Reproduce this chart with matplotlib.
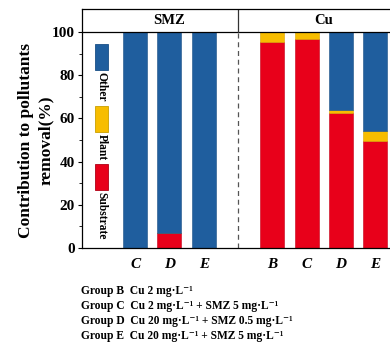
import matplotlib
matplotlib.use("Agg")
import matplotlib.pyplot as plt
from matplotlib.patches import Rectangle

plt.rcParams['font.family'] = ['Liberation Serif', 'DejaVu Serif']
plt.rcParams['font.weight'] = 'bold'

# Data
smz_groups = ['C', 'D', 'E']
smz_substrate = [0, 7, 0]
smz_plant = [0, 0, 0]
smz_other = [100, 93, 100]

cu_groups = ['B', 'C', 'D', 'E']
cu_substrate = [95.5, 96.8, 62.3, 49.5]
cu_plant = [4.5, 3.2, 1.6, 4.7]
cu_other = [0, 0, 36.1, 45.8]

legend_labels = ['Other', 'Plant', 'Substrate']
notes = [
    "Group B  Cu 2 mg·L⁻¹",
    "Group C  Cu 2 mg·L⁻¹ + SMZ 5 mg·L⁻¹",
    "Group D  Cu 20 mg·L⁻¹ + SMZ 0.5 mg·L⁻¹",
    "Group E  Cu 20 mg·L⁻¹ + SMZ 5 mg·L⁻¹",
]

c_other = '#1f5e9e'
c_plant = '#f7bd00'
c_sub = '#e8001a'

fig = plt.figure(figsize=(3.9, 3.51), dpi=100)
ax = fig.add_axes([82/390, (351-248)/351, (394-82)/390, (248-9)/351])

smz_x = [2, 3, 4]
cu_x = [6, 7, 8, 9]
w = 0.7

def stack(xs, sub, pl, ot):
    ax.bar(xs, sub, w, color=c_sub, edgecolor='#c40018', linewidth=0.4)
    ax.bar(xs, pl, w, bottom=sub, color=c_plant, edgecolor='#d9a400', linewidth=0.4)
    bottoms = [s + p for s, p in zip(sub, pl)]
    ax.bar(xs, ot, w, bottom=bottoms, color=c_other, edgecolor='#1a4f86', linewidth=0.4)

stack(smz_x, smz_substrate, smz_plant, smz_other)
stack(cu_x, cu_substrate, cu_plant, cu_other)

ax.set_xlim(0.45, 9.55)
ax.set_ylim(0, 110.6)
ax.set_yticks([0, 20, 40, 60, 80, 100])
ax.set_yticks(range(10, 100, 20), minor=True)
ax.tick_params(axis='y', which='major', length=3, width=0.8, direction='out', labelsize=11, pad=2)
ax.tick_params(axis='y', which='minor', length=2, width=0.6, direction='out')
ax.set_xticks(smz_x + cu_x)
ax.set_xticklabels(smz_groups + cu_groups, fontstyle='italic', fontweight='bold', fontsize=11)
ax.tick_params(axis='x', length=0, pad=7)
for lab in ax.get_yticklabels():
    lab.set_fontweight('bold')

ax.axhline(100, color='black', lw=0.9)
ax.plot([5, 5], [100, 110.6], color='#333333', lw=0.9)
ax.plot([5, 5], [0, 100], color='#555555', lw=0.9, ls=(0, (4, 3)))
ax.text(3.0, 105.3, 'SMZ', ha='center', va='center', fontsize=10.5, fontweight='bold')
ax.text(7.5, 105.3, 'Cu', ha='center', va='center', fontsize=10.5, fontweight='bold')

for s in ['left', 'bottom', 'top']:
    ax.spines[s].set_linewidth(0.9)
ax.spines['right'].set_visible(False)

ax.set_ylabel('Contribution to pollutants\nremoval(%)', fontsize=12.5, fontweight='bold',
              linespacing=1.35)
ax.yaxis.set_label_coords(-28/312, (248-140)/239)

# manual vertical legend
cols = [c_other, c_plant, c_sub]
edges = ['#1a4f86', '#c9a000', '#b00015']
tops = [44, 106, 164]
for lab, col, ec, t in zip(legend_labels, cols, edges, tops):
    x0 = 95
    fx, fy = x0/390, (351 - (t + 26))/351
    fig.patches.append(Rectangle((fx, fy), 13/390, 26/351, transform=fig.transFigure,
                                 facecolor=col, edgecolor=ec, linewidth=0.6))
    fig.text((x0 + 6.5)/390, (351 - (t + 28))/351, lab, rotation=-90, ha='center', va='top',
             fontsize=8.3, fontweight='bold')

ys = [291, 306, 321, 336]
for txt, y in zip(notes, ys):
    fig.text(81/390, (351 - y)/351, txt, ha='left', va='center', fontsize=8.3, fontweight='bold')

fig.savefig('out.png', dpi=100)
